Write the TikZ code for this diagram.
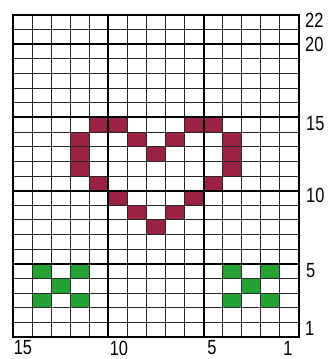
\documentclass[tikz,border=0pt]{standalone}
\usepackage{fontspec}
\usepackage{graphicx}
\setmainfont{Liberation Sans}
\definecolor{heartred}{RGB}{155,34,66}
\definecolor{leafgreen}{RGB}{36,162,52}
\tikzset{
  thinline/.style={line width=0.9pt,black!85},
  thickline/.style={line width=2pt,black},
  borderline/.style={line width=2.5pt,black},
  lbl/.style={inner sep=0pt,font=\fontsize{20.5}{20.5}\selectfont},
}
\newcommand{\nlbl}[1]{\scalebox{0.8}[1]{#1}}
\begin{document}
\begin{tikzpicture}[x=1pt,y=1pt]
\useasboundingbox (0,0) rectangle (328,359);
\fill[white] (0,0) rectangle (328,359);
\begin{scope}[shift={(13,22)},x=19.0667pt,y=14.6364pt]
  % heart cells: {column from right/row from bottom}
  \foreach \c/\r in {11/15,10/15,6/15,5/15,
                     12/14,9/14,7/14,4/14,
                     12/13,8/13,4/13,
                     12/12,4/12,
                     11/11,5/11,
                     10/10,6/10,
                     9/9,7/9,
                     8/8}
    \fill[heartred] ({15-\c},{\r-1}) rectangle ++(1,1);
  \foreach \c/\r in {14/5,12/5,13/4,14/3,12/3,
                     4/5,2/5,3/4,4/3,2/3}
    \fill[leafgreen] ({15-\c},{\r-1}) rectangle ++(1,1);
  % thin grid
  \foreach \i in {1,...,14}
    \draw[thinline] (\i,0) -- (\i,22);
  \foreach \j in {1,...,21}
    \draw[thinline] (0,\j) -- (15,\j);
  % thick lines
  \foreach \i in {5,10}
    \draw[thickline] (\i,0) -- (\i,22);
  \foreach \j in {5,10,15,20}
    \draw[thickline] (0,\j) -- (15,\j);
  \draw[borderline] (0,0) rectangle (15,22);
\end{scope}
% right labels
\node[lbl,anchor=west] (r22) at (305,338.5) {\nlbl{22}};
\node[lbl,anchor=west] (r20) at (305,314.5) {\nlbl{20}};
\node[lbl,anchor=west] (r15) at (306,235.5) {\nlbl{15}};
\node[lbl,anchor=west] (r10) at (306,164) {\nlbl{10}};
\node[lbl,anchor=west] (r5) at (306,88.5) {\nlbl{5}};
\node[lbl,anchor=west] (r1) at (305,30.5) {\nlbl{1}};
% bottom labels
\node[lbl] (b15) at (23,11) {\nlbl{15}};
\node[lbl] (b10) at (119,11) {\nlbl{10}};
\node[lbl] (b5) at (212,11) {\nlbl{5}};
\node[lbl] (b1) at (288,11) {\nlbl{1}};
\end{tikzpicture}
\end{document}
